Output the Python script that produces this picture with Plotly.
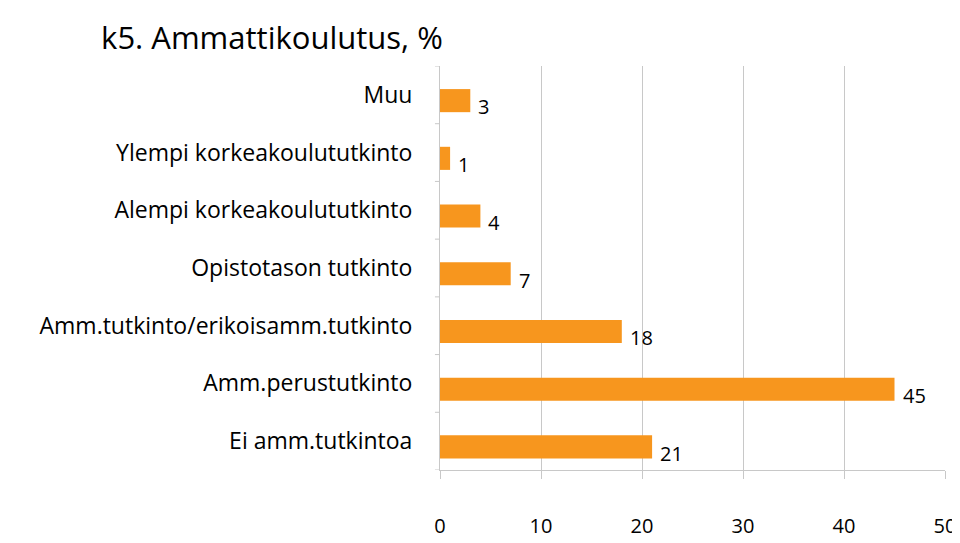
import plotly.graph_objects as go

categories = ["Ei amm.tutkintoa", "Amm.perustutkinto", "Amm.tutkinto/erikoisamm.tutkinto",
              "Opistotason tutkinto", "Alempi korkeakoulututkinto",
              "Ylempi korkeakoulututkinto", "Muu"]
values = [21, 45, 18, 7, 4, 1, 3]
x_ticks = [0, 10, 20, 30, 40, 50]

orange = "#F7961E"
font = "Open Sans"

fig = go.Figure()
fig.add_trace(go.Bar(
    y=categories, x=values, orientation="h",
    marker=dict(color=orange, line=dict(width=0)),
    width=0.4, offset=-0.3,
))

for c, v in zip(categories, values):
    fig.add_annotation(x=v, y=c, text=str(v), showarrow=False, xanchor="left",
                       xshift=6, yshift=-12, font=dict(size=20, color="#000", family=font))

# small tick marks between categories on the left axis
for i in range(len(categories) + 1):
    fig.add_shape(type="line", xref="paper", yref="y", x0=-0.01, x1=0,
                  y0=i - 0.5, y1=i - 0.5, line=dict(color="#c8c8c8", width=1))

fig.update_layout(
    width=960, height=543,
    paper_bgcolor="white", plot_bgcolor="white",
    margin=dict(l=432, r=22, t=58, b=65),
    showlegend=False,
    title=dict(text="k5. Ammattikoulutus, %", x=0.097, xanchor="left", y=0.965,
               font=dict(size=31, family=font, color="#000")),
    font=dict(family=font, color="#000"),
)
fig.update_xaxes(range=[0, 50], tickvals=x_ticks, showgrid=True, gridcolor="#c8c8c8",
                 showline=True, linecolor="#c8c8c8", ticks="outside", tickcolor="#c8c8c8",
                 ticklen=8, ticklabelstandoff=30, tickfont=dict(size=20), zeroline=False)
fig.update_yaxes(showline=True, linecolor="#c8c8c8", tickfont=dict(size=23),
                 ticks="", ticklabelstandoff=22, range=[-0.5, 6.5])

fig.write_html("out.html")
